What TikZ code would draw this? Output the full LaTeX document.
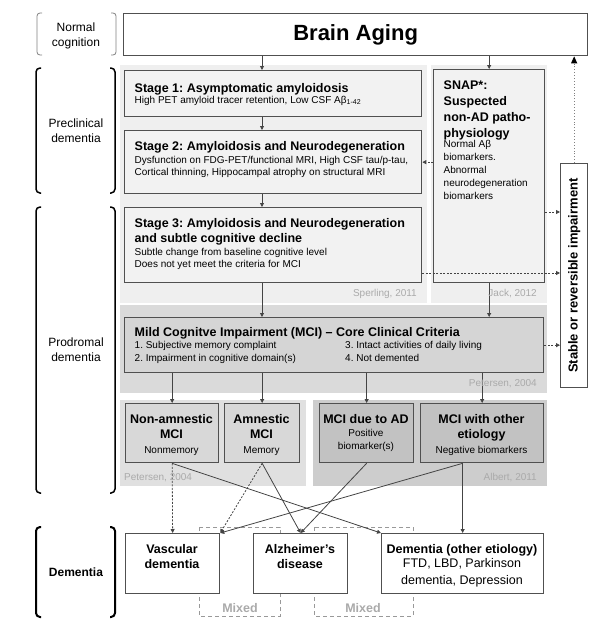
\documentclass[tikz,border=0pt]{standalone}
\usepackage{fontspec}
\setmainfont{Liberation Sans}
\usetikzlibrary{arrows.meta}
\usetikzlibrary{calc}
\frenchspacing

\definecolor{boxline}{HTML}{505050}
\definecolor{linegray}{HTML}{444444}
\definecolor{stagepanel}{HTML}{EFEFEF}
\definecolor{stagefill}{HTML}{F2F2F2}
\definecolor{mcipanel}{HTML}{DADADA}
\definecolor{mcifill}{HTML}{D5D5D5}
\definecolor{petpanel}{HTML}{E0E0E0}
\definecolor{petfill}{HTML}{D8D8D8}
\definecolor{albpanel}{HTML}{CDCDCD}
\definecolor{albfill}{HTML}{C2C2C2}
\definecolor{citegray}{HTML}{AAAAAA}

\begin{document}
\begin{tikzpicture}[x=1pt,y=-1pt,
  box/.style={draw=boxline,line width=1.3pt,anchor=north west,inner sep=0pt},
  hd/.style={font=\bfseries\fontsize{12.5}{15.7}\selectfont,inner sep=0pt,align=left,anchor=north west},
  bd/.style={font=\fontsize{10}{12.3}\selectfont,inner sep=0pt,align=left,anchor=north west},
  lab/.style={font=\fontsize{12}{15}\selectfont,inner sep=0pt,align=center,anchor=north},
  cite/.style={font=\fontsize{10}{12}\selectfont,text=citegray,inner sep=0pt},
  brk/.style={line width=1.5pt,rounded corners=4pt},
  arr/.style={draw=linegray,line width=0.8pt,-{Triangle[length=4pt,width=4pt]}},
  dasharr/.style={arr,dash pattern=on 2pt off 1.5pt},
  dotarr/.style={draw=gray,line width=0.9pt,dotted,-{Triangle[length=7pt,width=6pt,fill=black,color=black]}},
  mixbox/.style={draw=gray!80,line width=1pt,dash pattern=on 4pt off 3pt}]
\useasboundingbox (0,0) rectangle (607,624);

% background panels
\fill[stagepanel] (120,65) rectangle (427,303);
\fill[stagepanel] (431,65) rectangle (547,303);
\fill[mcipanel] (120,305) rectangle (547,393);
\fill[petpanel] (120,400) rectangle (306,486);
\fill[albpanel] (313,400) rectangle (547,486);
\draw[mixbox] (199,527) rectangle (280,616);
\draw[mixbox] (314,527) rectangle (413,616);

% brackets and stages on the left
\draw[gray,line width=0.8pt,rounded corners=3pt] (42,13) -- (37,13) -- (37,55) -- (42,55);
\draw[gray,line width=0.8pt,rounded corners=3pt] (111,13) -- (116,13) -- (116,55) -- (111,55);
\draw[brk] (41,68) -- (36,68) -- (36,193) -- (41,193);
\draw[brk] (110,68) -- (115,68) -- (115,193) -- (110,193);
\draw[brk] (41,207) -- (36,207) -- (36,493) -- (41,493);
\draw[brk] (110,207) -- (115,207) -- (115,493) -- (110,493);
\draw[brk,line width=2pt] (41,527) -- (36,527) -- (36,617) -- (41,617);
\draw[brk,line width=2pt] (110,527) -- (115,527) -- (115,617) -- (110,617);
\node[lab] (normal) at (76,23) {Normal\\cognition};
\node[lab] (precl) at (76,119) {Preclinical\\dementia};
\node[lab] (prodr) at (76,338) {Prodromal\\dementia};
\node[lab,font=\bfseries\fontsize{12}{15}\selectfont] (dem) at (76,568) {Dementia};

% boxes
\node[box,fill=white,minimum width=464,minimum height=42] (ba) at (123,13) {};
\node[box,fill=stagefill,minimum width=297,minimum height=46] (s1) at (124,70) {};
\node[box,fill=stagefill,minimum width=297,minimum height=63] (s2) at (124,130) {};
\node[box,fill=stagefill,minimum width=297,minimum height=75] (s3) at (124,207) {};
\node[box,fill=stagefill,minimum width=111,minimum height=213] (snap) at (433,69) {};
\node[box,fill=mcifill,minimum width=419,minimum height=55] (mci) at (124,317) {};
\node[box,fill=petfill,minimum width=93,minimum height=59] (nam) at (125,403) {};
\node[box,fill=petfill,minimum width=75,minimum height=59] (amn) at (224,403) {};
\node[box,fill=albfill,minimum width=94,minimum height=59] (mad) at (319,403) {};
\node[box,fill=albfill,minimum width=123,minimum height=59] (mot) at (420,403) {};
\node[box,fill=white,minimum width=94,minimum height=60] (vas) at (125,533) {};
\node[box,fill=white,minimum width=94,minimum height=60] (alz) at (253,533) {};
\node[box,fill=white,minimum width=162,minimum height=60] (doth) at (381,533) {};
\node[box,fill=white,minimum width=27,minimum height=224] (stab) at (560,163) {};

% columns and rows for connectors
\coordinate (colA) at (262,0);
\coordinate (rowA) at (0,212);
\coordinate (rowB) at (0,273);

\draw[arr] (ba.south -| colA) -- (s1.north -| colA);
\draw[arr] (s1.south -| colA) -- (s2.north -| colA);
\draw[arr] (s2.south -| colA) -- (s3.north -| colA);
\draw[arr] (s3.south -| colA) -- (mci.north -| colA);
\draw[arr] (snap.north |- ba.south) -- (snap.north);
\draw[arr] (snap.south) -- (snap.south |- mci.north);
\draw[dasharr] (snap.west |- s2.east) -- (s2.east);
\draw[dasharr] (snap.east |- rowA) -- (stab.west |- rowA);
\draw[dasharr] (s3.east |- rowB) -- (stab.west |- rowB);
\draw[dasharr] (mci.east) -- (mci.east -| stab.west);
\draw[dotarr] (stab.north) -- (stab.north |- ba.south);
\foreach \n in {nam,amn,mad,mot}
  \draw[arr] (mci.south -| \n.north) -- (\n.north);
\draw[dasharr] (nam.south) -- (vas.north);
\draw[arr] (nam.south) -- (doth.north west);
\draw[dasharr] (amn.south) -- (vas.north east);
\draw[arr] (amn.south) -- (alz.north);
\draw[arr] (mad.south) -- (alz.north);
\draw[arr] (mot.south -| doth.north) -- (vas.north east);
\draw[arr] (mot.south -| doth.north) -- (doth.north);

% texts
\node[font=\bfseries\fontsize{22}{26}\selectfont,inner sep=0pt] (bat) at (ba.center) {Brain Aging};
\node[hd] (s1t) at (134.5,83) {Stage 1: Asymptomatic amyloidosis};
\node[bd] (s1b) at (134.5,96) {High PET amyloid tracer retention, Low CSF Aβ\textsubscript{1-42}};
\node[hd] (s2t) at (134.5,141) {Stage 2: Amyloidosis and Neurodegeneration};
\node[bd] (s2b) at (134.5,156) {Dysfunction on FDG-PET/functional MRI, High CSF tau/p-tau,\\Cortical thinning, Hippocampal atrophy on structural MRI};
\node[hd] (s3t) at (134.5,218) {Stage 3: Amyloidosis and Neurodegeneration\\and subtle cognitive decline};
\node[bd] (s3b) at (134.5,248) {Subtle change from baseline cognitive level\\Does not yet meet the criteria for MCI};
\node[hd] (snapt) at (443.5,81) {SNAP*:\\Suspected\\non-AD patho-\\physiology};
\node[bd,font=\fontsize{10}{13}\selectfont] (snapb) at (443.5,140) {Normal Aβ\\biomarkers.\\Abnormal\\neurodegeneration\\biomarkers};
\node[hd] (mcit) at (134.5,327) {Mild Cognitve Impairment (MCI) -- Core Clinical Criteria};
\node[bd,font=\fontsize{10}{13}\selectfont] (mcib1) at (134.5,341) {1. Subjective memory complaint\\2. Impairment in cognitive domain(s)};
\node[bd,font=\fontsize{10}{13}\selectfont] (mcib2) at (345,341) {3. Intact activities of daily living\\4. Not demented};
\node[hd,align=center,anchor=north] (namt) at (171.5,414) {Non-amnestic\\MCI};
\node[bd,align=center,anchor=north] (namb) at (171.5,446) {Nonmemory};
\node[hd,align=center,anchor=north] (amnt) at (261.5,414) {Amnestic\\MCI};
\node[bd,align=center,anchor=north] (amnb) at (261.5,446) {Memory};
\node[hd,align=center,anchor=north] (madt) at (366,414) {MCI due to AD};
\node[bd,align=center,anchor=north,font=\fontsize{10}{13}\selectfont] (madb) at (366,429) {Positive\\biomarker(s)};
\node[hd,align=center,anchor=north] (mott) at (481.5,414) {MCI with other\\etiology};
\node[bd,align=center,anchor=north] (motb) at (481.5,446) {Negative biomarkers};
\node[hd,align=center,anchor=north,font=\bfseries\fontsize{12.5}{15}\selectfont] (vast) at (172,544) {Vascular\\dementia};
\node[hd,align=center,anchor=north,font=\bfseries\fontsize{12.5}{15}\selectfont] (alzt) at (300,544) {Alzheimer's\\disease};
\node[hd,align=center,anchor=north] (otht) at (462,544) {Dementia (other etiology)};
\node[bd,align=center,anchor=north,font=\fontsize{12.5}{16.5}\selectfont] (othb) at (462,558.5) {FTD, LBD, Parkinson\\dementia, Depression};
\node[font=\bfseries\fontsize{13}{15}\selectfont,rotate=90,inner sep=0pt] (stabt) at (stab.center) {Stable or reversible impairment};
\node[cite,anchor=base east] (c1) at (417,296) {Sperling, 2011};
\node[cite,anchor=base east] (c2) at (537,296) {Jack, 2012};
\node[cite,anchor=base east] (c3) at (537,386.5) {Petersen, 2004};
\node[cite,anchor=base west] (c4) at (124,480) {Petersen, 2004};
\node[cite,anchor=base east] (c5) at (537,480) {Albert, 2011};
\node[font=\bfseries\fontsize{12.5}{15}\selectfont,text=citegray,inner sep=0pt,anchor=base] (mx1) at (240,612.5) {Mixed};
\node[font=\bfseries\fontsize{12.5}{15}\selectfont,text=citegray,inner sep=0pt,anchor=base] (mx2) at (363,612.5) {Mixed};
\end{tikzpicture}
\end{document}
